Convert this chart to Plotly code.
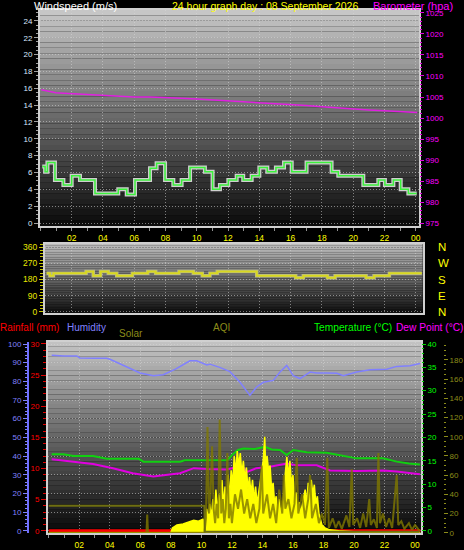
import plotly.graph_objects as go

# ---------------- data ----------------
hour_ticks = [2, 4, 6, 8, 10, 12, 14, 16, 18, 20, 22, 24]
hour_labels = ['02', '04', '06', '08', '10', '12', '14', '16', '18', '20', '22', '00']

wind_hours = [0.12, 0.30, 0.45, 0.93, 1.47, 2.00, 2.53, 3.49, 4.98, 5.52, 6.05, 7.01, 7.43, 7.97,
              8.50, 9.03, 9.57, 10.52, 11.01, 11.48, 12.02, 12.55, 12.97, 13.51, 14.00, 14.51,
              15.06, 15.58, 16.07, 17.02, 18.62, 19.05, 20.65, 21.61, 22.03, 22.57, 23.04, 23.53, 24.06]
wind_vals = [6.7, 6.1, 7.2, 5.1, 4.5, 5.6, 5.1, 3.5, 4.0, 3.4, 5.1, 6.5, 7.1, 5.1,
             4.5, 5.1, 6.6, 6.1, 4.0, 4.5, 5.1, 5.6, 5.1, 5.6, 6.6, 6.1,
             6.6, 7.2, 6.1, 7.2, 6.1, 5.6, 4.5, 5.1, 4.5, 5.1, 4.0, 3.5, 3.5]

baro_hours = [0.05, 0.5, 1.0, 1.5, 2, 3, 4, 5, 6, 7, 8, 9, 10, 11, 12, 13, 14, 15, 16, 17,
              18, 19, 20, 21, 22, 23, 24.1]
baro_vals = [1006.7, 1006.4, 1006.0, 1005.9, 1005.8, 1005.6, 1005.3, 1005.1, 1005.0, 1005.0,
             1004.9, 1004.7, 1004.5, 1004.3, 1004.1, 1003.8, 1003.6, 1003.4, 1003.2, 1003.0,
             1002.7, 1002.4, 1002.1, 1001.9, 1001.7, 1001.5, 1001.3]

dir_ticks = [0, 90, 180, 270, 360]
dir_labels = ['N', 'E', 'S', 'W', 'N']
dir_hours = [0.40, 0.61, 0.83, 2.92, 3.38, 3.85, 4.34, 4.88, 5.88, 6.86, 7.37, 8.86, 9.78,
             10.35, 10.84, 11.31, 13.83, 16.32, 16.81, 18.35, 18.84, 20.82, 21.33, 22.31, 24.38]
dir_vals = [215, 201, 215, 224, 201, 224, 215, 201, 215, 224, 215, 224, 215,
            201, 215, 224, 201, 190, 201, 190, 201, 190, 201, 215, 215]

hum_hours = [0.19, 1.0, 1.83, 2.04, 3.0, 3.79, 4.01, 5.0, 5.98, 6.85, 7.5, 8.3, 9.25, 9.69,
             10.35, 10.56, 11.2, 11.87, 12.53, 13.18, 13.62, 14.06, 14.71, 15.15, 15.59, 16.02,
             16.46, 17.12, 17.56, 18.2, 18.87, 19.3, 20.18, 21.05, 22.14, 22.8, 23.67, 24.32]
hum_vals = [94.0, 93.6, 93.6, 92.5, 92.3, 92.3, 91.8, 88.0, 84.5, 83.0, 83.5, 86.5, 91.0, 91.0,
            88.8, 89.2, 87.5, 85.2, 79.5, 72.5, 77.0, 79.5, 80.5, 85.0, 88.5, 83.0,
            81.5, 85.0, 84.5, 84.5, 84.3, 83.0, 85.0, 86.2, 86.5, 88.0, 88.3, 89.6]

temp_hours = [0.19, 0.95, 1.6, 2.9, 3.8, 5.9, 6.2, 8.6, 8.9, 11.7, 12.0, 12.4, 12.75, 13.5,
              14.17, 14.6, 15.15, 15.59, 16.02, 16.9, 18.2, 19.08, 19.8, 20.18, 21.9, 22.8,
              23.6, 24.32]
temp_vals = [16.4, 16.4, 16.0, 16.0, 15.4, 15.4, 14.8, 14.8, 15.1, 15.1, 16.2, 17.3, 17.6, 17.5,
             18.0, 17.4, 17.3, 16.2, 17.3, 16.8, 16.7, 16.2, 15.8, 15.5, 15.5, 14.8,
             14.4, 14.2]

dew_hours = [0.19, 1.6, 2.9, 4.2, 5.5, 6.85, 7.7, 8.6, 9.5, 10.35, 11.65, 12.3, 12.7, 13.0,
             13.6, 14.5, 15.6, 16.25, 17.56, 18.43, 20.18, 21.9, 22.8, 24.32]
dew_vals = [15.3, 14.8, 14.3, 13.4, 12.3, 11.6, 11.9, 12.3, 13.4, 13.2, 13.1, 13.6, 13.7, 12.6,
            13.4, 13.7, 14.4, 14.0, 14.0, 12.9, 12.8, 12.9, 12.7, 12.1]

rain_hours = [0.0, 24.35]
rain_vals = [0.0, 0.0]

solar_hours = [0.0, 8.0, 8.1, 8.4, 8.8, 9.2, 9.5, 9.8, 10.1, 10.25, 10.35, 10.45, 10.55, 10.65,
               10.75, 10.85, 10.95, 11.05, 11.15, 11.25, 11.35, 11.45, 11.55, 11.65, 11.75,
               11.85, 11.95, 12.05, 12.15, 12.25, 12.35, 12.45, 12.55, 12.65, 12.75, 12.85,
               12.95, 13.05, 13.15, 13.25, 13.35, 13.45, 13.55, 13.65, 13.75, 13.85, 13.95,
               14.05, 14.15, 14.2, 14.3, 14.4, 14.5, 14.6, 14.7, 14.8, 14.9, 15.0, 15.1, 15.2,
               15.3, 15.4, 15.5, 15.6, 15.7, 15.8, 15.9, 16.0, 16.1, 16.2, 16.3, 16.4, 16.5,
               16.6, 16.7, 16.8, 16.9, 17.0, 17.1, 17.2, 17.3, 17.4, 17.5, 17.6, 17.7, 17.8,
               17.9, 18.1, 18.4, 19.0, 20.0, 21.0, 24.35]
solar_vals = [0, 0, 5, 8, 9, 11, 13, 12, 14, 10, 25, 12, 30, 15,
              35, 18, 45, 22, 40, 20, 55, 28, 48, 25, 60,
              35, 65, 50, 80, 62, 85, 70, 83, 60, 75, 55,
              68, 45, 58, 40, 55, 35, 48, 30, 42, 55, 68,
              75, 100, 72, 80, 65, 70, 45, 52, 30, 38, 22, 35, 20,
              28, 40, 62, 79, 58, 75, 50, 60, 35, 42, 25, 32, 20,
              28, 35, 45, 30, 52, 38, 55, 40, 50, 30, 38, 20, 14,
              8, 5, 3, 2, 1, 0, 0]

spike_hours = [0.0, 6.4, 6.45, 6.5, 10.2, 10.3, 10.4, 10.5, 10.6, 10.7, 10.8, 10.9, 11.0, 11.1,
               11.2, 11.3, 11.4, 11.5, 11.6, 11.7, 11.8, 11.9, 12.0, 12.2, 12.4, 12.6, 12.8,
               13.0, 13.2, 13.4, 13.6, 13.8, 13.95, 14.05, 14.3, 14.5, 14.7, 14.9, 15.1, 15.3,
               15.4, 15.5, 15.7, 15.9, 16.1, 16.25, 16.35, 16.6, 16.8, 17.0, 17.12, 17.25, 17.5,
               17.7, 17.9, 18.1, 18.25, 18.35, 18.6, 18.8, 19.0, 19.2, 19.5, 19.7, 19.85, 19.95,
               20.2, 20.4, 20.6, 20.8, 21.0, 21.1, 21.3, 21.5, 21.6, 21.7, 21.9, 22.1, 22.3,
               22.5, 22.8, 22.9, 23.1, 23.3, 23.6, 23.8, 24.0, 24.3]
spike_vals = [0, 0, 19, 0, 0, 15, 110, 20, 40, 90, 25, 10, 30, 15,
              118, 20, 35, 10, 25, 83, 15, 30, 10, 40, 25, 45, 20,
              35, 15, 30, 10, 25, 70, 20, 40, 15, 30, 10, 45, 20,
              60, 25, 35, 15, 30, 78, 20, 40, 15, 35, 60, 15, 30,
              10, 20, 8, 78, 5, 15, 5, 12, 4, 18, 6, 66, 8,
              15, 5, 20, 6, 35, 8, 14, 5, 83, 10, 20, 6, 15,
              5, 60, 8, 12, 4, 10, 3, 8, 2]

aqi_hours = [0.0, 10.2, 10.22, 24.3]
aqi_vals = [28, 28, 1, 1]

# ---------------- layout helpers ----------------
W, H = 464, 550


def fx(p):
    return p / W


def fy(p):
    return 1 - p / H


FONT = 'Liberation Sans'
GRID = 'rgba(215,215,215,0.55)'
FRAME = '#d0d0d0'
YEL = '#ffff00'
OLIVE = '#8c8c1a'

fig = go.Figure()

# top panel
fig.add_trace(go.Scatter(x=wind_hours, y=wind_vals, mode='lines', xaxis='x', yaxis='y',
                         line=dict(color='#cfcfcf', width=4, shape='hv')))
fig.add_trace(go.Scatter(x=wind_hours, y=wind_vals, mode='lines', xaxis='x', yaxis='y',
                         line=dict(color='#3cf03c', width=1.5, shape='hv')))
fig.add_trace(go.Scatter(x=baro_hours, y=baro_vals, mode='lines', xaxis='x', yaxis='y2',
                         line=dict(color='#e020e0', width=1.5)))

# direction panel
fig.add_trace(go.Scatter(x=dir_hours, y=dir_vals, mode='lines', xaxis='x2', yaxis='y3',
                         line=dict(color='#b8b890', width=3.5, shape='hv')))
fig.add_trace(go.Scatter(x=dir_hours, y=dir_vals, mode='lines', xaxis='x2', yaxis='y4',
                         line=dict(color='#d8d820', width=2, shape='hv')))

# bottom panel
fig.add_trace(go.Scatter(x=solar_hours, y=solar_vals, mode='lines', xaxis='x3', yaxis='y8',
                         fill='tozeroy', fillcolor='#ffff00',
                         line=dict(color='#ffff00', width=1.5)))
fig.add_trace(go.Scatter(x=spike_hours, y=spike_vals, mode='lines', xaxis='x3', yaxis='y8',
                         line=dict(color='rgba(128,120,0,0.8)', width=2)))
fig.add_trace(go.Scatter(x=aqi_hours, y=aqi_vals, mode='lines', xaxis='x3', yaxis='y8',
                         line=dict(color='#6e6e10', width=2)))
fig.add_trace(go.Scatter(x=rain_hours, y=rain_vals, mode='lines', xaxis='x3', yaxis='y6',
                         line=dict(color='#ff0000', width=3)))
fig.add_trace(go.Scatter(x=hum_hours, y=hum_vals, mode='lines', xaxis='x3', yaxis='y5',
                         line=dict(color='#8080ff', width=1.5)))
fig.add_trace(go.Scatter(x=temp_hours, y=temp_vals, mode='lines', xaxis='x3', yaxis='y7',
                         line=dict(color='#10d010', width=2)))
fig.add_trace(go.Scatter(x=dew_hours, y=dew_vals, mode='lines', xaxis='x3', yaxis='y7',
                         line=dict(color='#e000e0', width=2)))

# background gradients
shapes = []


def gradient(xref, yref, top, bottom, n=40):
    for i in range(n):
        t0, t1 = i / n, (i + 1) / n
        v = int(round(bottom + (top - bottom) * (t0 + t1) / 2))
        shapes.append(dict(type='rect', xref=xref, yref=yref, x0=0, x1=1, y0=t0, y1=t1,
                           fillcolor='rgb(%d,%d,%d)' % (v, v, v), line=dict(width=0), layer='below'))


gradient('x domain', 'y domain', 200, 10)
gradient('x2 domain', 'y3 domain', 190, 14)
gradient('x3 domain', 'y5 domain', 196, 8)

tickfont = dict(family=FONT, size=8)


def xax(dom, rng, anchor, labels=True):
    return dict(domain=dom, range=rng, anchor=anchor, automargin=False,
                tickmode='array', tickvals=hour_ticks, ticktext=hour_labels,
                showticklabels=labels, tickfont=dict(family=FONT, size=8.5, color=YEL),
                ticks='outside' if labels else '', ticklen=3, tickcolor='#909090',
                minor=dict(tickmode='linear', tick0=0, dtick=1, ticks='outside' if labels else '',
                           ticklen=3, tickcolor='#909090', showgrid=False),
                showgrid=True, gridcolor=GRID, griddash='1px,2px', gridwidth=1,
                showline=True, mirror=True, linecolor=FRAME, linewidth=2, zeroline=False)


layout = dict(
    width=W, height=H, autosize=False, template='none',
    margin=dict(l=0, r=0, t=0, b=0, pad=0),
    paper_bgcolor='black', plot_bgcolor='black', showlegend=False,
    font=dict(family=FONT, size=10, color='white'),
    shapes=shapes,
    xaxis=xax([fx(40), fx(419)], [-0.026, 24.21], 'y'),
    xaxis2=xax([fx(45), fx(422.7)], [0.294, 24.44], 'y3', labels=False),
    xaxis3=xax([fx(48), fx(421)], [-0.052, 24.39], 'y5'),
    yaxis=dict(domain=[fy(226), fy(10)], range=[-0.356, 25.3], anchor='x', automargin=False,
               tickmode='linear', tick0=0, dtick=2, tickfont=dict(tickfont, color='#d8e8ff'),
               ticks='outside', ticklen=4, tickcolor='#a0a0a0',
               minor=dict(tickmode='linear', tick0=0, dtick=0.5, ticks='outside', ticklen=2,
                          tickcolor='#a0a0a0', showgrid=False),
               showgrid=True, gridcolor=GRID, griddash='1px,2px',
               showline=True, mirror=True, linecolor=FRAME, linewidth=2, zeroline=False),
    yaxis2=dict(overlaying='y', side='right', anchor='x', range=[974.29, 1025.71], automargin=False,
                tickmode='linear', tick0=975, dtick=5, tickfont=dict(tickfont, color='#ff00ff'),
                ticks='outside', ticklen=4, tickcolor='#e000e0',
                minor=dict(tickmode='linear', tick0=975, dtick=1, ticks='outside', ticklen=2,
                           tickcolor='#e000e0', showgrid=False),
                showgrid=False, showline=False, zeroline=False),
    yaxis3=dict(domain=[fy(313), fy(244)], range=[-7.27, 378.4], anchor='x2', automargin=False,
                tickmode='array', tickvals=dir_ticks, tickfont=dict(family=FONT, size=8.5, color='#e8e800'),
                ticks='outside', ticklen=4, tickcolor='#c8c800',
                minor=dict(tickmode='linear', tick0=0, dtick=18, ticks='outside', ticklen=3,
                           tickcolor='#c8c800', showgrid=False),
                showgrid=True, gridcolor=GRID, griddash='1px,2px',
                showline=True, mirror=True, linecolor=FRAME, linewidth=2, zeroline=False),
    yaxis4=dict(overlaying='y3', side='right', anchor='x2', range=[-7.27, 378.4], automargin=False,
                tickmode='array', tickvals=dir_ticks, ticktext=dir_labels,
                tickfont=dict(family=FONT, size=11.5, color=YEL),
                ticks='outside', ticklen=12, tickcolor='rgba(0,0,0,0)',
                showgrid=False, showline=False, zeroline=False),
    yaxis5=dict(domain=[fy(533), fy(342)], range=[-1.23, 101.07], anchor='free', position=fx(28),
                side='left', automargin=False,
                tickmode='linear', tick0=0, dtick=10, tickfont=dict(tickfont, color='#8080ff'),
                ticks='outside', ticklen=4, tickcolor='#8080ff',
                minor=dict(tickmode='linear', tick0=0, dtick=2, ticks='outside', ticklen=2,
                           tickcolor='#8080ff', showgrid=False),
                showgrid=True, gridcolor=GRID, griddash='1px,2px',
                showline=True, linecolor='#7070ff', linewidth=2, zeroline=False),
    yaxis6=dict(overlaying='y5', side='left', anchor='x3', range=[-0.37, 30.32], automargin=False,
                tickmode='linear', tick0=0, dtick=5, tickfont=dict(tickfont, color='#ff0000'),
                ticks='outside', ticklen=5, tickcolor='#e00000',
                minor=dict(tickmode='linear', tick0=0, dtick=1, ticks='outside', ticklen=3,
                           tickcolor='#e00000', showgrid=False),
                showgrid=False, showline=True, mirror=True, linecolor=FRAME, linewidth=2,
                zeroline=False),
    yaxis7=dict(overlaying='y5', side='right', anchor='x3', range=[-0.49, 40.43], automargin=False,
                tickmode='linear', tick0=0, dtick=5, tickfont=dict(tickfont, color='#00ff00'),
                ticks='outside', ticklen=4, tickcolor='#00d000',
                minor=dict(tickmode='linear', tick0=0, dtick=1, ticks='outside', ticklen=2,
                           tickcolor='#00d000', showgrid=False),
                showgrid=False, showline=False, zeroline=False),
    yaxis8=dict(overlaying='y5', side='right', anchor='free', position=fx(443), range=[-0.3, 198.7],
                automargin=False,
                tickmode='linear', tick0=0, dtick=20, tickfont=dict(tickfont, color=OLIVE),
                ticks='outside', ticklen=4, tickcolor=OLIVE,
                minor=dict(tickmode='linear', tick0=0, dtick=5, ticks='outside', ticklen=2,
                           tickcolor=OLIVE, showgrid=False),
                showgrid=False, showline=False, zeroline=False),
)


def label(text, xp, yp, color, size=11):
    return dict(text=text, x=fx(xp), y=fy(yp), xref='paper', yref='paper', xanchor='left',
                yanchor='middle', showarrow=False, borderpad=0,
                font=dict(family=FONT, size=size, color=color))


layout['annotations'] = [
    label('Windspeed (m/s)', 33, 5.5, 'white', 11),
    label('24 hour graph day : 08 September 2026', 171, 5.5, YEL, 10.5),
    label('Barometer (hpa)', 372, 5.5, '#ff00ff', 11),
    label('Rainfall (mm)', -1, 327, '#ff0000', 10),
    label('Humidity', 66, 327, '#8080ff', 10),
    label('Solar', 118, 333, OLIVE, 10),
    label('AQI', 212, 327, OLIVE, 10),
    label('Temperature (°C)', 313, 327, '#00ff00', 10.2),
    label('Dew Point (°C)', 395, 327, '#ff00ff', 10.2),
]

fig.update_layout(**layout)
fig.write_html('out.html', config={'displayModeBar': False},
               post_script="document.body.style.margin='0';document.body.style.overflow='hidden';")
